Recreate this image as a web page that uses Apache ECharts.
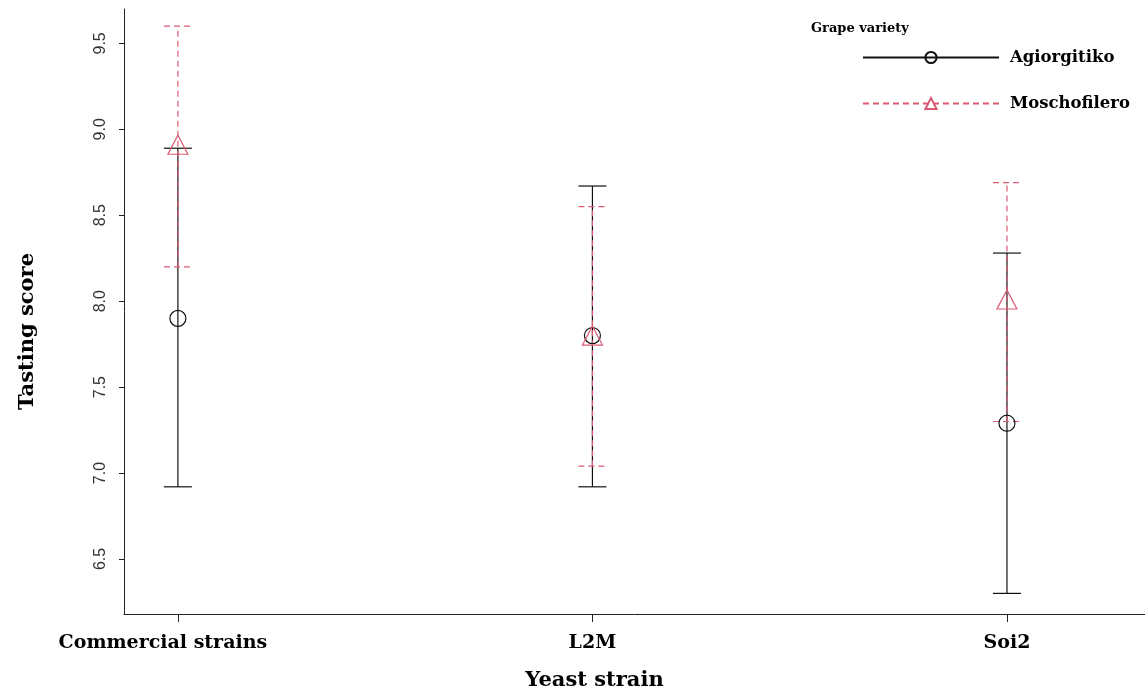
<!DOCTYPE html>
<html>
<head>
<meta charset="utf-8">
<script src="https://cdn.jsdelivr.net/npm/echarts@6/dist/echarts.min.js"></script>
<style>
html,body{margin:0;padding:0;background:#fff;}
#main{width:1145px;height:699px;}
</style>
</head>
<body>
<div id="main"></div>
<script>
const categories = ['Commercial strains', 'L2M', 'Soi2'];
const seriesNames = ['Agiorgitiko', 'Moschofilero'];
const agiMean = [7.90, 7.80, 7.29];
const agiLow = [6.92, 6.92, 6.30];
const agiHigh = [8.89, 8.67, 8.28];
const moschMean = [8.91, 7.80, 8.01];
const moschLow = [8.20, 7.04, 7.30];
const moschHigh = [9.60, 8.55, 8.69];
const yTicks = [6.5, 7.0, 7.5, 8.0, 8.5, 9.0, 9.5];

const BLACK = '#111111';
const PINK = '#DA5A72';
const SERIF = '"DejaVu Serif", "Liberation Serif", serif';

function errData(low, high) {
  return categories.map((c, i) => [i, low[i], high[i]]);
}
function meanData(mean) {
  return categories.map((c, i) => [i, mean[i]]);
}
function makeErrRender(color, dash) {
  return function (params, api) {
    const x = api.value(0);
    const lo = api.coord([x, api.value(1)]);
    const hi = api.coord([x, api.value(2)]);
    const hw = 14;
    const style = { stroke: color, lineWidth: 1.2, lineDash: dash, fill: null };
    return {
      type: 'group',
      children: [
        { type: 'line', shape: { x1: lo[0], y1: lo[1], x2: hi[0], y2: hi[1] }, style: style },
        { type: 'line', shape: { x1: hi[0] - hw, y1: hi[1], x2: hi[0] + hw, y2: hi[1] }, style: style },
        { type: 'line', shape: { x1: lo[0] - hw, y1: lo[1], x2: lo[0] + hw, y2: lo[1] }, style: style }
      ]
    };
  };
}

const catFont = { fontFamily: SERIF, fontWeight: 'bold', fontSize: 19, color: '#000' };

const chart = echarts.init(document.getElementById('main'), null, { renderer: 'canvas' });
chart.setOption({
  animation: false,
  backgroundColor: '#fff',
  title: {
    text: 'Grape variety',
    left: 806, top: 17,
    textStyle: { fontFamily: SERIF, fontWeight: 'bold', fontSize: 13, color: '#000' }
  },
  legend: {
    orient: 'vertical',
    left: 857, top: 44,
    itemWidth: 136, itemHeight: 14, itemGap: 29,
    textStyle: { fontFamily: SERIF, fontWeight: 'bold', fontSize: 16.5, color: '#000', padding: [0, 0, 0, 6] },
    data: [
      { name: seriesNames[0], lineStyle: { opacity: 1 } },
      { name: seriesNames[1], lineStyle: { opacity: 1 } }
    ]
  },
  grid: { left: 124, right: 0, top: 9, bottom: 85, containLabel: false },
  xAxis: {
    type: 'value',
    min: -0.13, max: 2.333,
    name: 'Yeast strain',
    nameLocation: 'middle',
    nameGap: 56,
    nameTextStyle: { fontFamily: SERIF, fontWeight: 'bold', fontSize: 21, color: '#000', padding: [0, 80, 0, 0] },
    splitLine: { show: false },
    axisLine: { show: true, onZero: false, lineStyle: { color: '#222', width: 1 } },
    axisTick: { show: true, customValues: [0, 1, 2], length: 8, lineStyle: { color: '#222' } },
    axisLabel: {
      customValues: [0, 1, 2],
      formatter: v => {
        const i = Math.round(v);
        return i === 0 ? '{first|' + categories[i] + '}' : '{c|' + categories[i] + '}';
      },
      margin: 20,
      rich: {
        first: Object.assign({ padding: [0, 30, 0, 0] }, catFont),
        c: catFont
      }
    }
  },
  yAxis: {
    type: 'value',
    min: 6.18, max: 9.70,
    name: 'Tasting score',
    nameLocation: 'middle',
    nameRotate: 90,
    nameGap: 86,
    nameTextStyle: { fontFamily: SERIF, fontWeight: 'bold', fontSize: 21, color: '#000', padding: [0, 40, 0, 0] },
    splitLine: { show: false },
    axisLine: { show: true, onZero: false, lineStyle: { color: '#222', width: 1 } },
    axisTick: { show: true, customValues: yTicks, length: 5, lineStyle: { color: '#222' } },
    axisLabel: {
      customValues: yTicks,
      rotate: 90,
      margin: 15,
      formatter: v => v.toFixed(1),
      fontFamily: '"Liberation Sans", Arial, sans-serif', fontSize: 16, color: '#333'
    }
  },
  series: [
    {
      name: seriesNames[0],
      type: 'line',
      data: meanData(agiMean),
      symbol: 'circle',
      symbolSize: 16,
      lineStyle: { color: BLACK, width: 1.5, type: 'solid', opacity: 0 },
      itemStyle: { color: 'rgba(0,0,0,0)', borderColor: BLACK, borderWidth: 1.2 },
      z: 3
    },
    {
      name: seriesNames[1],
      type: 'line',
      data: meanData(moschMean),
      symbol: 'triangle',
      symbolSize: [20, 19],
      lineStyle: { color: PINK, width: 1.5, type: [6, 4], opacity: 0 },
      itemStyle: { color: 'rgba(0,0,0,0)', borderColor: PINK, borderWidth: 1.2 },
      z: 3
    },
    {
      name: seriesNames[0] + ' error',
      type: 'custom',
      data: errData(agiLow, agiHigh),
      renderItem: makeErrRender(BLACK, null),
      encode: { x: 0, y: [1, 2] },
      z: 2
    },
    {
      name: seriesNames[1] + ' error',
      type: 'custom',
      data: errData(moschLow, moschHigh),
      renderItem: makeErrRender(PINK, [6, 4]),
      encode: { x: 0, y: [1, 2] },
      z: 2
    }
  ]
});
</script>
</body>
</html>
